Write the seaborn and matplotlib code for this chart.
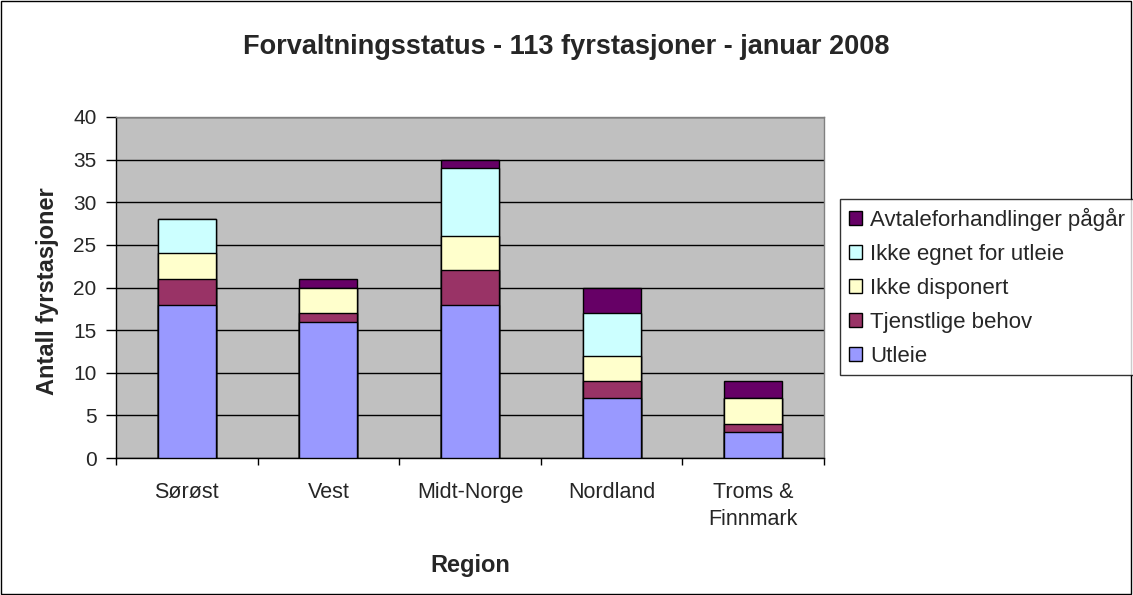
import matplotlib
matplotlib.use("Agg")
import matplotlib.pyplot as plt
from matplotlib.patches import Patch
import numpy as np
import pandas as pd
import seaborn as sns

regions = ["Sørøst", "Vest", "Midt-Norge", "Nordland", "Troms &\nFinnmark"]
series_names = ["Utleie", "Tjenstlige behov", "Ikke disponert",
                "Ikke egnet for utleie", "Avtaleforhandlinger pågår"]
utleie = [18, 16, 18, 7, 3]
tjenstlige = [3, 1, 4, 2, 1]
ikke_disponert = [3, 3, 4, 3, 3]
ikke_egnet = [4, 0, 8, 5, 0]
avtale = [0, 1, 1, 3, 2]
colors = ["#9999FF", "#993366", "#FFFFCC", "#CCFFFF", "#660066"]

sns.set_style("white")
plt.rcParams["font.family"] = ["Liberation Sans", "DejaVu Sans"]

values = np.array([utleie, tjenstlige, ikke_disponert, ikke_egnet, avtale])
cumulative = values.cumsum(axis=0)

fig = plt.figure(figsize=(11.33, 5.95), dpi=100)
ax = fig.add_axes([116 / 1133, 1 - 458 / 595, (824 - 116) / 1133, (458 - 117) / 595])
ax.set_facecolor("#C0C0C0")

# draw the stack from the top down so each lower segment covers the one above
for i in reversed(range(len(series_names))):
    df = pd.DataFrame({"region": regions, "value": cumulative[i]})
    sns.barplot(data=df, x="region", y="value", color=colors[i], width=0.41,
                edgecolor="black", linewidth=1, saturation=1, ax=ax, zorder=3)

ax.set_ylim(0, 40)
ax.set_xlim(-0.5, 4.5)
ax.set_yticks(range(0, 41, 5))
ax.yaxis.grid(True, color="black", linewidth=1)
ax.set_axisbelow(True)
for side in ["left", "bottom"]:
    ax.spines[side].set_color("black")
    ax.spines[side].set_linewidth(1)
for side in ["top", "right"]:
    ax.spines[side].set_color("#808080")
    ax.spines[side].set_linewidth(1)

ax.tick_params(axis="y", direction="out", length=7, width=1, color="black",
               labelsize=15, pad=7, left=True)
ax.set_xticks(np.arange(-0.5, 5, 1), minor=True)
ax.tick_params(axis="x", which="minor", direction="out", length=5, width=1,
               color="black", bottom=True)
ax.tick_params(axis="x", which="major", length=0, labelsize=15.5, pad=17)
for lbl in ax.get_xticklabels():
    lbl.set_linespacing(1.4)

ax.set_xlabel("Region", fontsize=17, fontweight="bold", labelpad=17)
ax.set_ylabel("Antall fyrstasjoner", fontsize=17, fontweight="bold")
ax.yaxis.set_label_coords(-0.08, 0.49)
fig.text(0.5, 1 - 47 / 595, "Forvaltningsstatus - 113 fyrstasjoner - januar 2008",
         fontsize=19.5, fontweight="bold", ha="center", va="center")

handles = [Patch(facecolor=colors[i], edgecolor="black", label=series_names[i])
           for i in reversed(range(len(series_names)))]
leg = fig.legend(handles=handles, loc="upper left", bbox_to_anchor=(840 / 1133, 1 - 199 / 595),
                 fontsize=16, frameon=True, fancybox=False, handlelength=0.6, handleheight=0.6,
                 handletextpad=0.35, labelspacing=0.58, borderpad=0.4, borderaxespad=0)
leg.get_frame().set_edgecolor("black")
leg.get_frame().set_linewidth(1)

fig.patches.append(plt.Rectangle((0.001, 0.002), 0.997, 0.996, transform=fig.transFigure,
                                 fill=False, edgecolor="black", linewidth=1))

fig.savefig("out.png", dpi=100, facecolor="white")
